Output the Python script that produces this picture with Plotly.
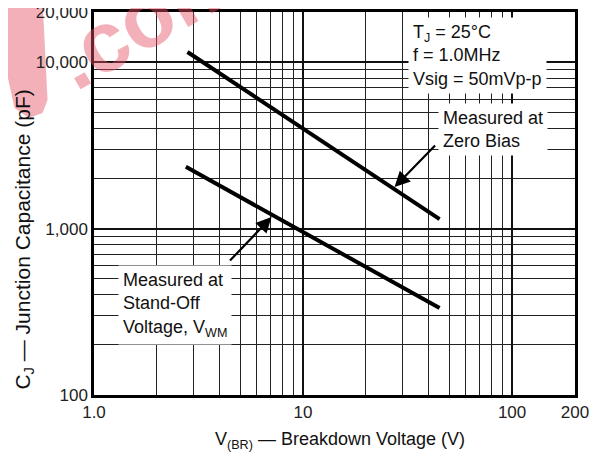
import math
import plotly.graph_objects as go

# ---- data ----
zero_bias_v = [2.8, 45]
zero_bias_c = [11500, 1140]
standoff_v = [2.75, 45]
standoff_c = [2350, 333]

x_major = [1, 10, 100, 200]
x_major_text = ["1.0", "10", "100", "200"]
x_minor = [2, 3, 4, 5, 6, 7, 8, 9, 20, 30, 40, 50, 60, 70, 80, 90]
y_major = [100, 1000, 10000, 20000]
y_major_text = ["100", "1,000", "10,000", "20,000"]
y_minor = [200, 300, 400, 500, 600, 700, 800, 900,
           2000, 3000, 4000, 5000, 6000, 7000, 8000, 9000]

# arrow tip points (data) for the two callouts
zero_arrow_tip = (27.4, 1775)
standoff_arrow_tip = (7.07, 1172)

# page has an 8px body margin; size the figure so it fits the window
OFF = 8
W, H = 601 - OFF, 460 - OFF
L, T = 93.5 - OFF, 12 - OFF
R = W - (575 - OFF)
B = H - (395 - OFF)
PW, PH = W - L - R, H - T - B

def px(xs):
    return (xs - OFF - L) / PW

def py(ys):
    return 1 - (ys - OFF - T) / PH

FONT = "Liberation Sans, Arial, Helvetica, sans-serif"
INK = "#111"
WM = "rgba(228,80,100,0.45)"

fig = go.Figure()
fig.add_trace(go.Scatter(x=zero_bias_v, y=zero_bias_c, mode="lines",
                         line=dict(color="black", width=4), hoverinfo="skip"))
fig.add_trace(go.Scatter(x=standoff_v, y=standoff_c, mode="lines",
                         line=dict(color="black", width=4), hoverinfo="skip"))

axis_common = dict(
    type="log", showline=True, mirror=True, linecolor="black", linewidth=2.5,
    ticks="", showgrid=True, gridcolor="#111", gridwidth=2, zeroline=False,
    automargin=False, ticklabeloverflow="allow",
    tickfont=dict(family=FONT, size=17, color="#222"),
)

fig.update_xaxes(
    range=[0, math.log10(200)], tickmode="array", tickvals=x_major, ticktext=x_major_text,
    minor=dict(tickmode="array", tickvals=x_minor, showgrid=True, gridcolor="#222",
               gridwidth=1, ticks=""),
    **axis_common)
fig.update_yaxes(
    range=[2, math.log10(20000)], tickmode="array", tickvals=y_major, ticktext=y_major_text,
    minor=dict(tickmode="array", tickvals=y_minor, showgrid=True, gridcolor="#222",
               gridwidth=1, ticks=""),
    **axis_common)

# axis titles
fig.add_annotation(xref="paper", yref="paper", x=px(340), y=py(440),
                   xanchor="center", yanchor="middle", showarrow=False,
                   text="V<sub>(BR)</sub> — Breakdown Voltage (V)",
                   font=dict(family=FONT, size=18, color=INK))
fig.add_annotation(xref="paper", yref="paper", x=px(23), y=py(240),
                   xanchor="center", yanchor="middle", showarrow=False, textangle=-90,
                   text="C<sub>J</sub> — Junction Capacitance (pF)",
                   font=dict(family=FONT, size=21, color=INK))

txt_font = dict(family=FONT, size=18, color=INK)

# condition box
fig.add_annotation(xref="paper", yref="paper", x=px(408), y=py(17),
                   xanchor="left", yanchor="top", align="left", showarrow=False,
                   text="T<sub>J</sub> = 25°C<br>f = 1.0MHz<br>Vsig = 50mVp-p",
                   bgcolor="white", borderpad=4, font=txt_font)
# zero bias label
fig.add_annotation(xref="paper", yref="paper", x=px(438), y=py(103),
                   xanchor="left", yanchor="top", align="left", showarrow=False,
                   text="Measured at<br>Zero Bias",
                   bgcolor="white", borderpad=4, font=txt_font)
# stand-off label
fig.add_annotation(xref="paper", yref="paper", x=px(118), y=py(265),
                   xanchor="left", yanchor="top", align="left", showarrow=False,
                   text="Measured at<br>Stand-Off<br>Voltage, V<sub>WM</sub>",
                   bgcolor="white", borderpad=4, font=txt_font)

# arrows
fig.add_annotation(x=math.log10(zero_arrow_tip[0]), y=math.log10(zero_arrow_tip[1]),
                   xref="x", yref="y", ax=42, ay=-43, showarrow=True, text="",
                   arrowhead=2, arrowsize=1.4, arrowwidth=2.2, arrowcolor="black")
fig.add_annotation(x=math.log10(standoff_arrow_tip[0]), y=math.log10(standoff_arrow_tip[1]),
                   xref="x", yref="y", ax=-43, ay=45, showarrow=True, text="",
                   arrowhead=2, arrowsize=1.4, arrowwidth=2.2, arrowcolor="black")

# watermark fragments
fig.add_annotation(xref="paper", yref="paper", x=px(147), y=py(16),
                   xanchor="center", yanchor="middle", showarrow=False,
                   text="<b>.com</b>", textangle=-30,
                   font=dict(family=FONT, size=86, color=WM))
band = [(0, 0), (42, 0), (47, 100), (42, 113), (28, 118), (14, 108), (0, 45)]
band_path = "M " + " L ".join(f"{px(a):.4f},{py(b):.4f}" for a, b in band) + " Z"
fig.add_shape(type="path", xref="paper", yref="paper", path=band_path,
              fillcolor=WM, line=dict(width=0), layer="below")

fig.update_layout(
    width=W, height=H, margin=dict(l=L, r=R, t=T, b=B),
    plot_bgcolor="white", paper_bgcolor="white", showlegend=False,
)

fig.write_html("out.html")
